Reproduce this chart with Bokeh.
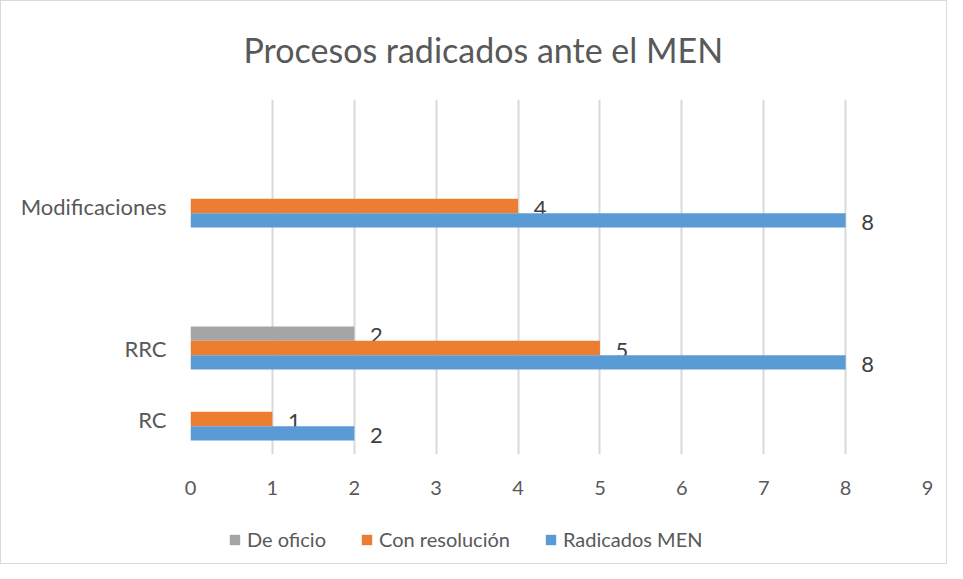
from bokeh.plotting import figure
from bokeh.layouts import column
from bokeh.models import ColumnDataSource, FactorRange, Range1d, FixedTicker, Legend, LegendItem
from bokeh.transform import dodge
from bokeh.core.properties import value
from bokeh.embed import file_html
from bokeh.resources import INLINE

categories = ["RC", "RRC", " ", "Modificaciones", "  "]
series_names = ["De oficio", "Con resolución", "Radicados MEN"]
de_oficio = [None, 2, None, None, None]
con_resolucion = [1, 5, None, 4, None]
radicados_men = [2, 8, None, 8, None]
x_ticks = [0, 1, 2, 3, 4, 5, 6, 7, 8, 9]

colors = ["#A5A5A5", "#ED7D31", "#5B9BD5"]
offsets = [0.203, 0.0, -0.203]
FONT = "Lato"

p = figure(width=945, height=502, output_backend="svg", toolbar_location=None,
           y_range=FactorRange(factors=categories), x_range=Range1d(0, 9),
           min_border_left=189, min_border_right=19, min_border_top=98, min_border_bottom=49)

p.title.text = "Procesos radicados ante el MEN"
p.title.align = "left"
p.title.offset = 53
p.title.vertical_align = "top"
p.title.text_font = FONT
p.title.text_font_size = "34px"
p.title.text_font_style = "normal"
p.title.text_color = "#595959"
p.title.standoff = 55

p.outline_line_color = None
p.ygrid.grid_line_color = None
p.xgrid.grid_line_color = "#D9D9D9"
p.xgrid.grid_line_width = 2
p.xaxis.ticker = FixedTicker(ticks=x_ticks)

for ax in (p.xaxis[0], p.yaxis[0]):
    ax.axis_line_color = None
    ax.major_tick_line_color = None
    ax.minor_tick_line_color = None
    ax.major_tick_out = 0
    ax.major_tick_in = 0
    ax.major_label_text_font = FONT
    ax.major_label_text_color = "#595959"
p.xaxis.major_label_text_font_size = "20px"
p.yaxis.major_label_text_font_size = "22px"
p.xaxis.major_label_standoff = 26
p.yaxis.major_label_standoff = 24

# legend strip below the chart (frames are aligned by the column layout)
pl = figure(width=945, height=60, output_backend="svg", toolbar_location=None,
            y_range=FactorRange(factors=categories), x_range=Range1d(0, 9),
            x_axis_location=None, y_axis_location=None,
            min_border_left=0, min_border_right=0, min_border_top=0, min_border_bottom=0)
pl.outline_line_color = None
pl.grid.grid_line_color = None

series = [de_oficio, con_resolucion, radicados_men]
leg_renderers = []
for name, vals, col, off in zip(series_names, series, colors, offsets):
    xs = [float("nan") if v is None else v for v in vals]
    src = ColumnDataSource(dict(cat=categories, val=xs))
    p.hbar(y=dodge("cat", off, range=p.y_range), right="val", left=0, height=0.203,
           source=src, fill_color=col, line_color=None)
    # zero-height twin, only used to draw the legend swatch
    leg_renderers.append(pl.hbar(y="cat", right="val", left=0, height=0,
                                 source=src, fill_color=col, line_color=None))
    lc = [c for c, v in zip(categories, vals) if v is not None]
    lv = [v for v in vals if v is not None]
    lsrc = ColumnDataSource(dict(cat=lc, val=lv, txt=[str(v) for v in lv]))
    p.text(x="val", y=dodge("cat", off, range=p.y_range), text="txt", source=lsrc,
           x_offset=22, y_offset=2, text_align="center", text_baseline="middle",
           text_font=value(FONT), text_font_size="22px", text_color="#404040")

legend = Legend(items=[LegendItem(label=n, renderers=[r]) for n, r in zip(series_names, leg_renderers)],
                orientation="horizontal", location=(38, 12))
legend.label_text_font = FONT
legend.label_text_font_size = "20px"
legend.label_text_color = "#595959"
legend.glyph_width = 13
legend.glyph_height = 13
legend.label_standoff = 6
legend.spacing = 34
legend.padding = 0
legend.margin = 0
legend.border_line_color = None
legend.background_fill_alpha = 0
pl.add_layout(legend, "center")

layout = column(p, pl, spacing=0)
layout.styles = {"border": "1px solid #D9D9D9"}

open("out.html", "w").write(file_html(layout, INLINE))
